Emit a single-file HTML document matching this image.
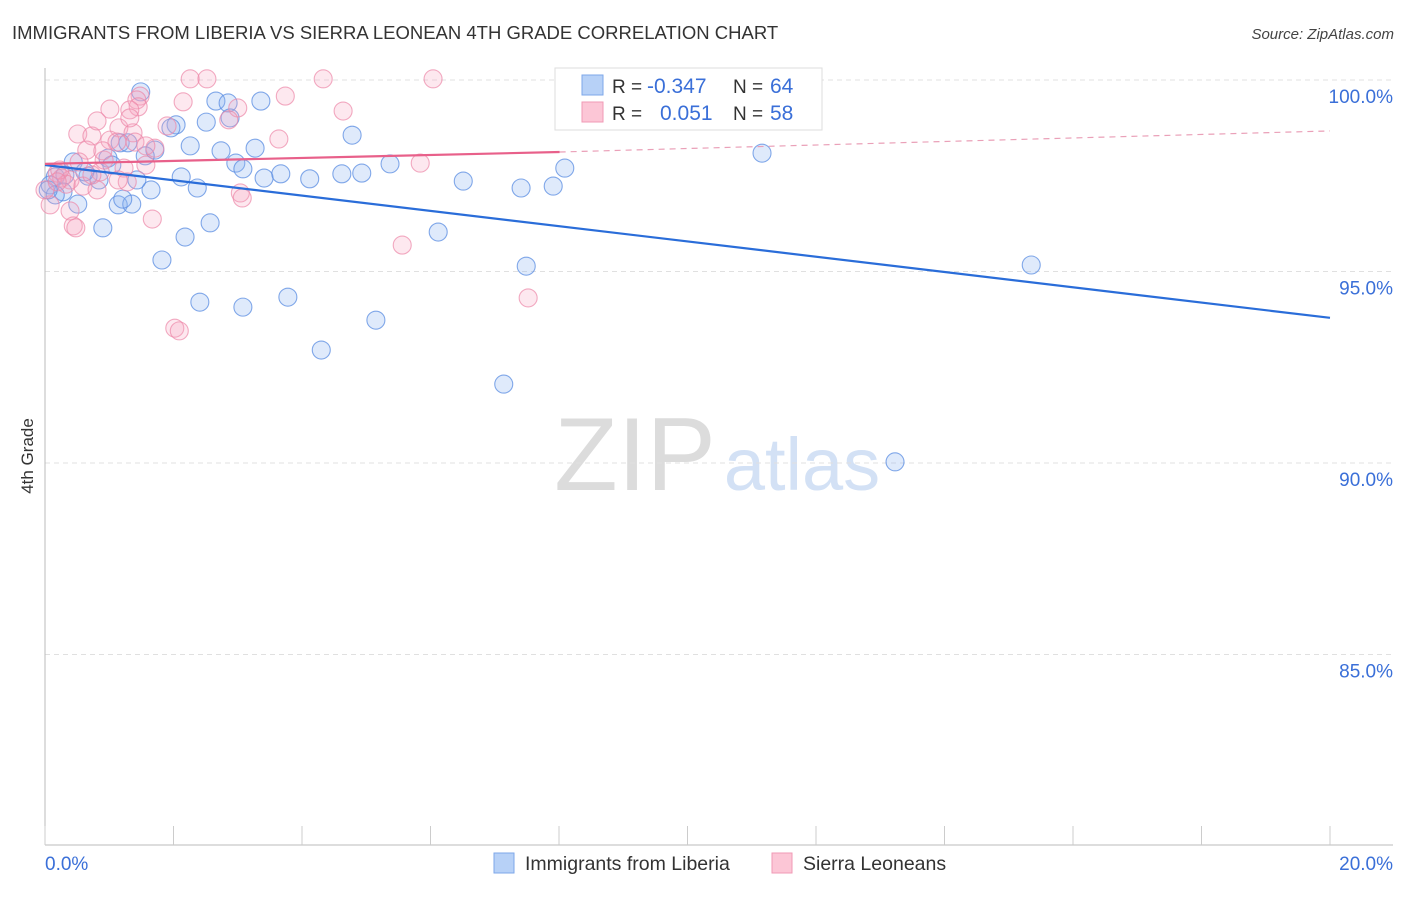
<!DOCTYPE html>
<html><head><meta charset="utf-8"><style>
body{margin:0;background:#fff;font-family:"Liberation Sans",sans-serif;}
svg text{font-family:"Liberation Sans",sans-serif;}
</style></head><body>
<svg id="chart" width="1406" height="892" xmlns="http://www.w3.org/2000/svg">
<text x="12" y="39" font-size="18.5" fill="#333">IMMIGRANTS FROM LIBERIA VS SIERRA LEONEAN 4TH GRADE CORRELATION CHART</text>
<text x="1394" y="39" font-size="15" fill="#444" text-anchor="end" font-style="italic">Source: ZipAtlas.com</text>
<text transform="translate(33,456) rotate(-90)" font-size="17" fill="#333" text-anchor="middle">4th Grade</text>
<g>
<text x="635" y="490" font-size="104" fill="#dcdcdc" text-anchor="middle" font-family="Liberation Serif,serif">ZIP</text>
<text x="802" y="490" font-size="74" fill="#d3e1f5" text-anchor="middle">atlas</text>
</g>
<g id="grid"></g><g id="axes"></g><g id="marks"></g><g id="lines"></g>
<g>
<rect x="555" y="68" width="267" height="62" fill="#fff" stroke="#ddd"/>
<rect x="582" y="75" width="21" height="20" fill="#b7d1f7" stroke="#7ea7ea"/>
<rect x="582" y="102" width="21" height="20" fill="#fcc6d6" stroke="#f09ab5"/>
<text x="612" y="93" font-size="19" fill="#333">R =</text>
<text x="647" y="93" font-size="21" fill="#3a6fd8">-0.347</text>
<text x="733" y="93" font-size="19" fill="#333">N =</text>
<text x="770" y="93" font-size="21" fill="#3a6fd8">64</text>
<text x="612" y="120" font-size="19" fill="#333">R =</text>
<text x="660" y="120" font-size="21" fill="#3a6fd8">0.051</text>
<text x="733" y="120" font-size="19" fill="#333">N =</text>
<text x="770" y="120" font-size="21" fill="#3a6fd8">58</text>
</g>
<g>
<rect x="494" y="853" width="20" height="20" fill="#b7d1f7" stroke="#7ea7ea"/>
<text x="525" y="870" font-size="19.5" fill="#333">Immigrants from Liberia</text>
<rect x="772" y="853" width="20" height="20" fill="#fcc6d6" stroke="#f09ab5"/>
<text x="803" y="870" font-size="19.5" fill="#333">Sierra Leoneans</text>
</g>
</svg>
<script>
const yTicks=[100,95,90,85];
const yTickLabels=["100.0%","95.0%","90.0%","85.0%"];
const xTicks=[0,2,4,6,8,10,12,14,16,18,20];
const xEndLabels=["0.0%","20.0%"];
const blueX=[1.49,9.42,2.66,2.85,3.36,2.04,2.51,1.96,2.88,4.78,2.26,2.74,3.27,1.71,1.17,0.44,0.98,1.04,1.56,2.97,3.08,5.37,8.09,11.16,2.12,3.41,3.67,4.12,4.62,4.93,6.51,7.41,7.91,2.37,1.65,0.67,0.16,0.08,0.28,0.51,1.14,1.35,1.21,1.43,0.16,0.90,2.18,2.57,6.12,1.82,7.49,15.35,2.41,3.08,3.78,5.15,4.30,7.14,13.23,0.05,0.84,0.62,0.31,1.29];
const blueY=[99.69,100.03,99.45,99.40,99.45,98.83,98.90,98.75,99.01,98.56,98.28,98.15,98.22,98.17,98.36,97.86,97.96,97.78,98.02,97.83,97.68,97.81,97.70,98.09,97.47,97.44,97.55,97.42,97.55,97.57,97.36,97.18,97.23,97.18,97.13,97.49,97.47,97.26,97.08,96.76,96.74,96.76,96.89,97.39,97.00,96.14,95.90,96.27,96.03,95.30,95.14,95.17,94.20,94.07,94.33,93.73,92.95,92.06,90.03,97.13,97.39,97.60,97.52,98.36];
const pinkX=[2.26,2.52,4.33,6.04,1.48,1.43,2.15,3.74,1.01,3.00,4.64,1.45,1.32,0.51,0.73,1.15,0.81,1.01,1.37,1.71,0.65,1.12,1.90,2.86,3.64,5.84,1.57,1.23,0.86,0.19,0.26,0.39,0.33,0.59,0.81,1.28,3.04,3.07,0.39,0.44,0.48,1.67,5.56,7.52,2.02,2.09,0.08,0.00,0.73,0.23,0.92,1.40,0.90,1.32,1.57,0.19,1.14,0.53];
const pinkY=[100.03,100.03,100.03,100.03,99.58,99.48,99.43,99.58,99.24,99.27,99.19,99.30,99.22,98.59,98.54,98.75,98.93,98.43,98.62,98.22,98.17,98.38,98.80,98.96,98.46,97.83,97.78,97.70,97.60,97.57,97.44,97.39,97.28,97.23,97.13,97.34,97.05,96.92,96.58,96.19,96.14,96.37,95.69,94.31,93.52,93.45,96.74,97.13,97.52,97.65,97.91,98.38,98.15,99.01,98.28,97.34,97.39,97.86];
const blueTrendX=[0,20];
const blueTrendY=[97.78,93.79];
const pinkTrendX=[0,8.01,20];
const pinkTrendY=[97.81,98.12,98.67];

const NS="http://www.w3.org/2000/svg";
const X0=45,X1=1330,YTOP=80,PX5=191.5;
const sx=v=>X0+(v-0)/20*(X1-X0);
const sy=v=>YTOP+(100-v)/5*PX5;
function mk(tag,attrs,parent){const e=document.createElementNS(NS,tag);for(const k in attrs)e.setAttribute(k,attrs[k]);document.getElementById(parent).appendChild(e);return e;}
yTicks.forEach((t,i)=>{
  const g=mk('line',{x1:X0,x2:1393,y1:sy(t),y2:sy(t),stroke:'#e0e0e0','stroke-dasharray':'5,4'},'grid');
  
  
  const l=mk('text',{x:1393,y:sy(t)+23,'font-size':19,fill:'#3a6fd8','text-anchor':'end'},'grid');
  l.textContent=yTickLabels[i];
  
  
});
const ax=mk('line',{x1:X0,x2:X0,y1:68,y2:845,stroke:'#bbb'},'axes');


const bx=mk('line',{x1:X0,x2:1393,y1:845,y2:845,stroke:'#bbb'},'axes');


xTicks.forEach(t=>{
  const k=mk('line',{x1:sx(t),x2:sx(t),y1:826,y2:845,stroke:'#ccc'},'axes');
  
  
});
const xl0=mk('text',{x:45,y:870,'font-size':19,fill:'#3a6fd8'},'axes');xl0.textContent=xEndLabels[0];


const xl1=mk('text',{x:1393,y:870,'font-size':19,fill:'#3a6fd8','text-anchor':'end'},'axes');xl1.textContent=xEndLabels[1];


blueX.forEach((v,i)=>{
  const c=mk('circle',{cx:sx(v),cy:sy(blueY[i]),r:9,fill:'rgba(140,180,240,0.28)',stroke:'rgba(90,140,225,0.75)','stroke-width':1.1},'marks');
  
  
});
pinkX.forEach((v,i)=>{
  const c=mk('circle',{cx:sx(v),cy:sy(pinkY[i]),r:9,fill:'rgba(248,165,190,0.25)',stroke:'rgba(236,135,168,0.7)','stroke-width':1.1},'marks');
  
  
});
const bl=mk('line',{x1:sx(blueTrendX[0]),y1:sy(blueTrendY[0]),x2:sx(blueTrendX[1]),y2:sy(blueTrendY[1]),stroke:'#2a6dd9','stroke-width':2.2},'lines');


const pl=mk('line',{x1:sx(pinkTrendX[0]),y1:sy(pinkTrendY[0]),x2:sx(pinkTrendX[1]),y2:sy(pinkTrendY[1]),stroke:'#e8608a','stroke-width':2.2},'lines');


const pd=mk('line',{x1:sx(pinkTrendX[1]),y1:sy(pinkTrendY[1]),x2:sx(pinkTrendX[2]),y2:sy(pinkTrendY[2]),stroke:'#eaa0b8','stroke-width':1.2,'stroke-dasharray':'6,5'},'lines');


</script>
</body></html>
